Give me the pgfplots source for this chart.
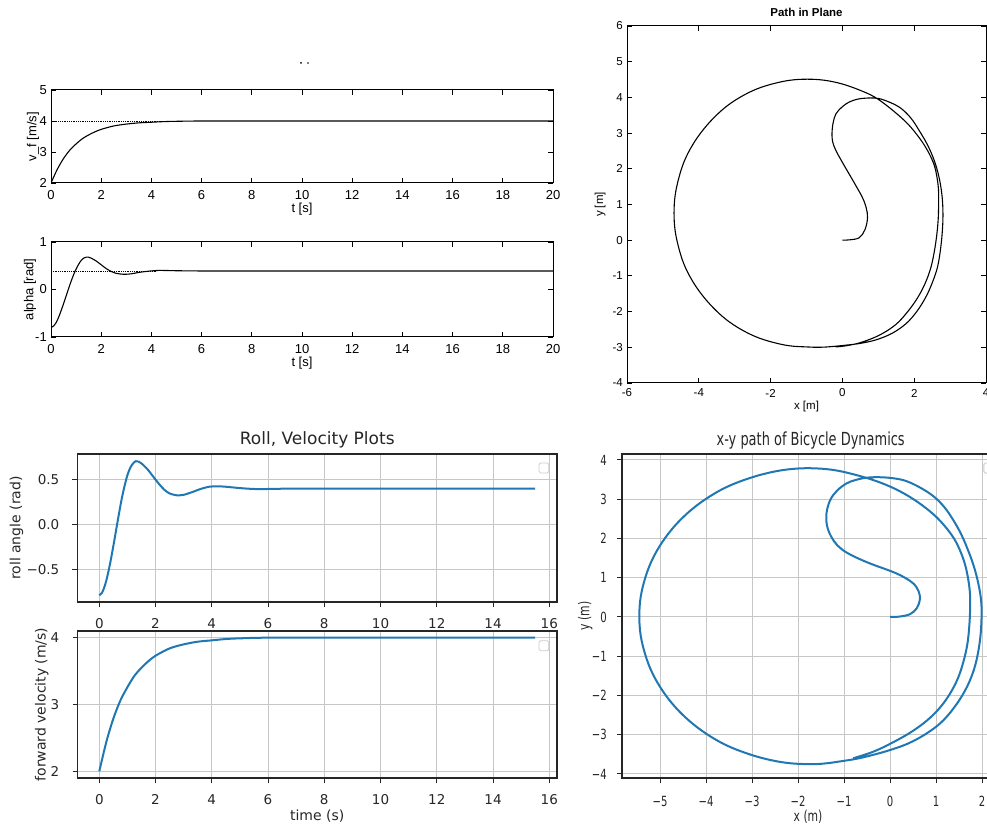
\documentclass[border=0pt]{standalone}
\usepackage{pgfplots}
\pgfplotsset{compat=1.18}
\usepackage{fontspec}
\setmainfont{Liberation Sans}
\newfontfamily\mlfont{Liberation Sans}
\newfontfamily\mplfont{DejaVu Sans}
\newfontfamily\mplnarrow[FakeStretch=0.72]{DejaVu Sans}
\definecolor{mplblue}{HTML}{1F77B4}

% two looks: scanned MATLAB figures on top, matplotlib figures below
\pgfplotsset{
  ml/.style={scale only axis, anchor=south west,
    axis line style={line width=1pt},
    tick align=inside, major tick length=5pt, tick style={black, line width=0.8pt},
    tick label style={font=\mlfont\fontsize{13}{13}\selectfont},
    label style={font=\mlfont\fontsize{13}{13}\selectfont},
    xticklabel style={anchor=center, yshift=-12pt},
    yticklabel style={anchor=east, inner sep=0pt, xshift=-4pt},
  },
  mpl/.style={scale only axis, anchor=south west,
    axis line style={line width=1.2pt, black!85},
    tick align=outside, xtick pos=left, ytick pos=left,
    major tick length=5pt, tick style={black!85, line width=1pt},
    grid=major, grid style={line width=1pt, black!22},
    tick label style={font=\mplfont\fontsize{13.5}{14}\selectfont, text=black!85},
    label style={font=\mplfont\fontsize{14}{14}\selectfont, text=black!85},
    title style={font=\mplfont\fontsize{17}{17}\selectfont, text=black!85},
    xticklabel style={anchor=center, yshift=-16.5pt},
    yticklabel style={anchor=east, inner sep=0pt, xshift=-13pt},
  },
  mplline/.style={mplblue, line width=2pt, smooth},
}
\tikzset{emptylegend/.style={black!20, line width=0.8pt, rounded corners=1.5pt, fill=white}}

\begin{document}
\begin{tikzpicture}
\useasboundingbox (0,0) rectangle (987pt,827pt);
\clip (0,0) rectangle (987pt,827pt);

% stray marks above the first MATLAB panel
\fill (301pt,764pt) circle (1pt);
\fill (308pt,764pt) circle (0.8pt);

% ---------- top left: forward velocity (MATLAB)
\begin{axis}[ml, at={(51pt,644pt)}, width=502pt, height=93pt,
  xmin=0, xmax=20, ymin=2, ymax=5,
  xtick={0,2,...,20}, xticklabels={0,2,4,6,8,10,12,14,16,18,20},
  ytick={2,3,4,5}, yticklabels={2,3,4,5},
  xlabel={t [s]}, ylabel={v\_f [m/s]},
  xlabel style={at={(axis description cs:0.5,-0.28)}, anchor=center},
  ylabel style={at={(axis description cs:-0.036,0.5)}, anchor=center},
]
\addplot[black, densely dotted, line width=0.8pt] coordinates {(0,4) (4.5,4)};
\addplot[black, line width=1.1pt, smooth] coordinates {
  (0,2.00) (0.25,2.44) (0.5,2.79) (0.75,3.06) (1.0,3.26) (1.25,3.43) (1.5,3.55)
  (1.75,3.65) (2.0,3.73) (2.5,3.84) (3.0,3.90) (3.5,3.94) (4.0,3.96) (4.5,3.98)
  (5,3.99) (6,4.0) (8,4.0) (12,4.0) (16,4.0) (20,4.0)};
\end{axis}

% ---------- top left: alpha (MATLAB)
\begin{axis}[ml, at={(51pt,490pt)}, width=502pt, height=95pt,
  xmin=0, xmax=20, ymin=-1, ymax=1,
  xtick={0,2,...,20}, xticklabels={0,2,4,6,8,10,12,14,16,18,20},
  ytick={-1,0,1}, yticklabels={-1,0,1},
  xlabel={t [s]}, ylabel={alpha [rad]},
  xlabel style={at={(axis description cs:0.5,-0.275)}, anchor=center},
  ylabel style={at={(axis description cs:-0.042,0.5)}, anchor=center},
]
\addplot[black, densely dotted, line width=0.8pt] coordinates {(0,0.39) (4.2,0.39)};
\addplot[black, line width=1.1pt, smooth] coordinates {
  (0,-0.80) (0.1,-0.77) (0.2,-0.70) (0.3,-0.59) (0.4,-0.45) (0.5,-0.30) (0.6,-0.14)
  (0.7,0.02) (0.8,0.17) (0.9,0.31) (1.0,0.43) (1.1,0.53) (1.2,0.61) (1.3,0.66)
  (1.4,0.68) (1.5,0.68) (1.6,0.66) (1.8,0.60) (2.0,0.52) (2.2,0.44) (2.4,0.38)
  (2.6,0.34) (2.9,0.32) (3.2,0.33) (3.5,0.36) (3.8,0.38) (4.2,0.40) (4.6,0.40)
  (5,0.395) (6,0.39) (8,0.39) (12,0.39) (16,0.39) (20,0.39)};
\end{axis}

% ---------- top right: path in plane (MATLAB)
\begin{axis}[ml, at={(627pt,444pt)}, width=359pt, height=357pt,
  xmin=-6, xmax=4, ymin=-4, ymax=6,
  tick label style={font=\mlfont\fontsize{11.5}{12}\selectfont},
  label style={font=\mlfont\fontsize{11.5}{12}\selectfont},
  xtick={-6,-4,...,4}, xticklabels={-6,-4,-2,0,2,4},
  ytick={-4,...,6}, yticklabels={-4,-3,-2,-1,0,1,2,3,4,5,6},
  xticklabel style={yshift=2pt},
  title={Path in Plane},
  title style={font=\mlfont\bfseries\fontsize{11.5}{12}\selectfont, at={(axis description cs:0.5,1.021)}, anchor=center},
  xlabel={x [m]}, ylabel={y [m]},
  xlabel style={at={(axis description cs:0.5,-0.067)}, anchor=center},
  ylabel style={at={(axis description cs:-0.075,0.5)}, anchor=center},
]
\addplot[black, line width=1.1pt, smooth, tension=0.6] coordinates {
  (0,0) (0.2,0.01) (0.47,0.07) (0.63,0.3) (0.70,0.63) (0.66,0.92) (0.56,1.19)
  (0.38,1.52) (0.19,1.85) (0.0,2.18) (-0.18,2.51) (-0.27,2.75) (-0.29,2.98)
  (-0.26,3.28) (-0.18,3.54) (0.0,3.74) (0.19,3.87) (0.42,3.95) (0.66,3.98)
  (0.9,3.98) (1.15,3.93)
  (1.58,3.73) (1.9,3.43) (2.14,3.07) (2.37,2.67) (2.56,2.23) (2.69,1.77)
  (2.77,1.29) (2.8,0.82) (2.79,0.35) (2.74,-0.2) (2.65,-0.75) (2.5,-1.2)
  (2.32,-1.6) (2.07,-2.0) (1.77,-2.34) (1.38,-2.61) (0.94,-2.79) (0.5,-2.89)
  (0.1,-2.94) (-0.3,-2.98) (-0.64,-3.0) (-0.98,-2.99)
  (-1.46,-2.96) (-1.94,-2.86) (-2.40,-2.71) (-2.84,-2.49) (-3.24,-2.22)
  (-3.60,-1.89) (-3.92,-1.52) (-4.19,-1.12) (-4.41,-0.68) (-4.56,-0.21)
  (-4.66,0.27) (-4.69,0.76) (-4.66,1.25) (-4.56,1.73) (-4.41,2.20) (-4.19,2.64)
  (-3.92,3.04) (-3.60,3.41) (-3.24,3.74) (-2.84,4.01) (-2.40,4.23) (-1.94,4.38)
  (-1.46,4.48) (-0.98,4.51) (-0.50,4.48) (-0.02,4.38) (0.44,4.22)
  (0.88,4.02) (1.3,3.72) (1.77,3.31) (2.08,2.95) (2.32,2.6) (2.5,2.25)
  (2.6,1.94) (2.67,1.5) (2.68,1.1) (2.67,0.62) (2.63,0.16) (2.56,-0.32)
  (2.46,-0.78) (2.3,-1.22) (2.09,-1.62) (1.82,-2.0) (1.49,-2.36) (1.05,-2.65)
  (0.56,-2.85) (0.15,-2.95) (-0.19,-2.99)};
\end{axis}

% ---------- bottom left: roll angle (matplotlib)
\begin{axis}[mpl, at={(77.5pt,225pt)}, width=479.5pt, height=148pt,
  xmin=-0.775, xmax=16.275, ymin=-0.865, ymax=0.785,
  xtick={0,2,...,16}, xticklabels={0,2,4,6,8,10,12,14,16},
  ytick={-0.5,0,0.5}, yticklabels={−0.5,0.0,0.5},
  title={Roll, Velocity Plots},
  title style={at={(axis description cs:0.5,1.054)}, anchor=center},
  ylabel={roll angle (rad)},
  ylabel style={at={(axis description cs:-0.127,0.5)}, anchor=center},
]
\addplot[mplline] coordinates {
  (0,-0.79) (0.1,-0.76) (0.2,-0.68) (0.3,-0.56) (0.4,-0.41) (0.5,-0.24)
  (0.6,-0.06) (0.7,0.12) (0.8,0.29) (0.9,0.43) (1.0,0.55) (1.1,0.63) (1.2,0.68)
  (1.3,0.705) (1.4,0.70) (1.5,0.68) (1.7,0.62) (1.9,0.54) (2.1,0.46) (2.3,0.39)
  (2.5,0.345) (2.75,0.325) (3.0,0.33) (3.3,0.36) (3.6,0.395) (3.9,0.42)
  (4.2,0.425) (4.5,0.42) (5.0,0.405) (5.5,0.395) (6.0,0.395) (7,0.40) (9,0.40)
  (12,0.40) (15.5,0.40)};
\draw[emptylegend] (axis description cs:0.9625,0.872) rectangle (axis description cs:0.983,0.939);
\end{axis}

% ---------- bottom left: forward velocity (matplotlib)
\begin{axis}[mpl, at={(77.5pt,49pt)}, width=479.5pt, height=147pt,
  xmin=-0.775, xmax=16.275, ymin=1.9, ymax=4.1,
  xtick={0,2,...,16}, xticklabels={0,2,4,6,8,10,12,14,16},
  ytick={2,3,4}, yticklabels={2,3,4},
  xlabel={time (s)}, ylabel={forward velocity (m/s)},
  xlabel style={at={(axis description cs:0.5,-0.259)}, anchor=center},
  ylabel style={at={(axis description cs:-0.0745,0.5)}, anchor=center},
]
\addplot[mplline] coordinates {
  (0,2.00) (0.25,2.44) (0.5,2.79) (0.75,3.06) (1.0,3.26) (1.25,3.43) (1.5,3.55)
  (1.75,3.65) (2.0,3.73) (2.5,3.84) (3.0,3.90) (3.5,3.94) (4.0,3.96) (4.5,3.98)
  (5,3.99) (6,4.0) (9,4.0) (12,4.0) (15.5,4.0)};
\draw[emptylegend] (axis description cs:0.9625,0.866) rectangle (axis description cs:0.983,0.934);
\end{axis}

% ---------- bottom right: x-y path (matplotlib, squeezed, cut at the right edge)
\begin{axis}[mpl, at={(622pt,49pt)}, width=367pt, height=324pt,
  xmin=-5.826, xmax=2.152, ymin=-4.102, ymax=4.153,
  tick label style={font=\mplnarrow\fontsize{14}{14}\selectfont},
  label style={font=\mplnarrow\fontsize{15}{15}\selectfont},
  xtick={-5,...,2}, xticklabels={−5,−4,−3,−2,−1,0,1,2},
  ytick={-4,...,4}, yticklabels={−4,−3,−2,−1,0,1,2,3,4},
  xticklabel style={yshift=-1.5pt},
  yticklabel style={xshift=3pt},
  title={x-y path of Bicycle Dynamics},
  title style={font=\mplnarrow\fontsize{18}{18}\selectfont, at={(axis description cs:0.514,1.0245)}, anchor=center},
  xlabel={x (m)}, ylabel={y (m)},
  xlabel style={at={(axis description cs:0.507,-0.12)}, anchor=center},
  ylabel style={at={(axis description cs:-0.1,0.5)}, anchor=center},
]
\addplot[mplline, tension=0.6] coordinates {
  (0,0) (0.2,0.01) (0.43,0.07) (0.58,0.22) (0.65,0.45) (0.62,0.66) (0.52,0.84)
  (0.34,0.99) (0.14,1.11) (-0.1,1.22) (-0.36,1.33) (-0.65,1.47) (-0.94,1.64)
  (-1.14,1.82) (-1.28,2.05) (-1.37,2.33) (-1.38,2.65) (-1.3,2.98) (-1.15,3.22)
  (-0.95,3.40) (-0.75,3.49) (-0.5,3.55) (-0.2,3.56) (0.1,3.53) (0.36,3.46)
  (0.65,3.3) (0.94,3.08) (1.18,2.8) (1.38,2.46) (1.55,2.1) (1.69,1.72)
  (1.82,1.3) (1.92,0.85) (1.98,0.42) (1.99,0.0) (1.96,-0.55) (1.88,-1.1)
  (1.76,-1.55) (1.59,-1.96) (1.36,-2.36) (1.09,-2.71) (0.75,-3.0) (0.38,-3.23)
  (0.0,-3.39) (-0.36,-3.51) (-0.72,-3.61) (-1.09,-3.68) (-1.4,-3.73) (-1.73,-3.75)
  (-2.22,-3.72) (-2.69,-3.62) (-3.15,-3.46) (-3.59,-3.25) (-4.00,-2.97)
  (-4.36,-2.65) (-4.68,-2.28) (-4.95,-1.87) (-5.17,-1.42) (-5.32,-0.96)
  (-5.42,-0.47) (-5.45,0.02) (-5.42,0.51) (-5.32,1.00) (-5.17,1.46) (-4.95,1.91)
  (-4.68,2.32) (-4.36,2.69) (-4.00,3.01) (-3.59,3.29) (-3.15,3.50) (-2.69,3.66)
  (-2.22,3.76) (-1.73,3.79) (-1.2,3.74) (-0.65,3.59) (-0.2,3.42) (0.22,3.2)
  (0.6,2.93) (0.94,2.62) (1.18,2.33) (1.38,2.02) (1.52,1.7) (1.63,1.34)
  (1.7,0.96) (1.74,0.56) (1.74,0.15) (1.72,-0.28) (1.68,-0.7) (1.6,-1.12)
  (1.48,-1.55) (1.30,-1.96) (1.07,-2.33) (0.78,-2.66) (0.42,-2.96) (0.02,-3.22)
  (-0.36,-3.43) (-0.8,-3.6)};
\draw[emptylegend] (axis description cs:0.986,0.941) rectangle (axis description cs:1.01,0.972);
\end{axis}
\end{tikzpicture}
\end{document}
